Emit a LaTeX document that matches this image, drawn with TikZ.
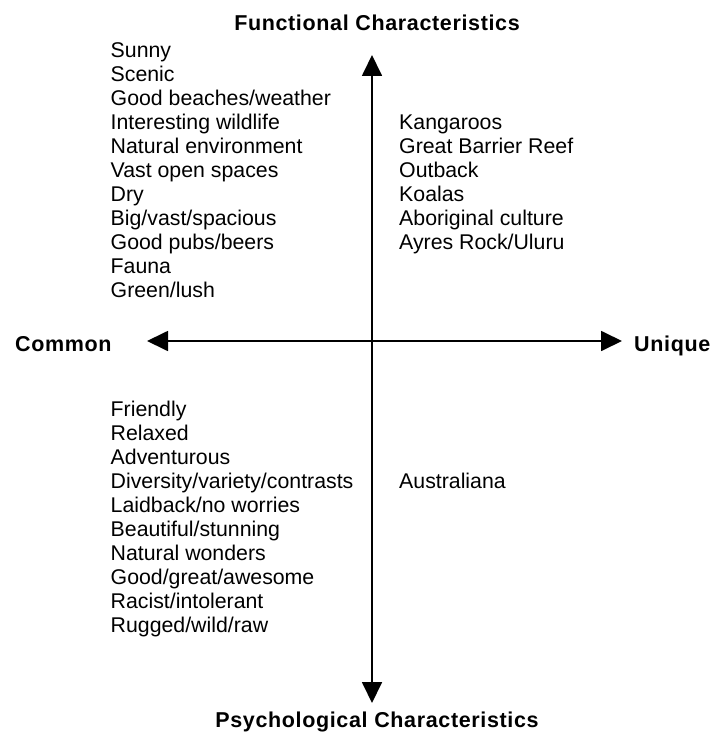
\documentclass[tikz,border=0pt]{standalone}
\usepackage{fontspec}
\setmainfont{Liberation Sans}
\newfontfamily\headfont[LetterSpace=3]{Liberation Sans}
\usetikzlibrary{arrows.meta}
\begin{document}
\begin{tikzpicture}[x=1pt,y=-1pt,
  item/.style={anchor=base west,inner sep=0pt,font=\fontsize{21.3}{24}\selectfont},
  head/.style={anchor=base,inner sep=0pt,font=\headfont\bfseries\fontsize{21.5}{26}\selectfont},
  axis/.style={line width=1.8pt,{Triangle[length=21pt,width=20pt]}-{Triangle[length=21pt,width=20pt]}}]
\useasboundingbox (0,0) rectangle (714,733);

% axis end points
\coordinate (top) at (372,55);
\coordinate (bottom) at (372,703);
\coordinate (left) at (147,341);
\coordinate (right) at (622,341);

\draw[axis] (bottom) -- (top);
\draw[axis] (left) -- (right);

% axis labels
\node[head] (functional) at (377,30.5) {Functional Characteristics};
\node[head] (psychological) at (377,727) {Psychological Characteristics};
\node[head,anchor=base west] (common) at (15,351) {Common};
\node[head,anchor=base west] (unique) at (634,351) {Unique};

% functional, common
\foreach \t [count=\i from 0] in {Sunny,Scenic,Good beaches/weather,Interesting wildlife,
  Natural environment,Vast open spaces,Dry,Big/vast/spacious,Good pubs/beers,Fauna,Green/lush}
  \node[item] (fc\i) at (110.5,57.3+24*\i) {\t};

% functional, unique
\foreach \t [count=\i from 0] in {Kangaroos,Great Barrier Reef,Outback,Koalas,
  Aboriginal culture,Ayres Rock/Uluru}
  \node[item] (fu\i) at (399,129.3+24*\i) {\t};

% psychological, common
\foreach \t [count=\i from 0] in {Friendly,Relaxed,Adventurous,Diversity/variety/contrasts,
  Laidback/no worries,Beautiful/stunning,Natural wonders,Good/great/awesome,
  Racist/intolerant,Rugged/wild/raw}
  \node[item] (pc\i) at (110.5,416+24*\i) {\t};

% psychological, unique
\node[item] (pu0) at (399,488) {Australiana};
\end{tikzpicture}
\end{document}
